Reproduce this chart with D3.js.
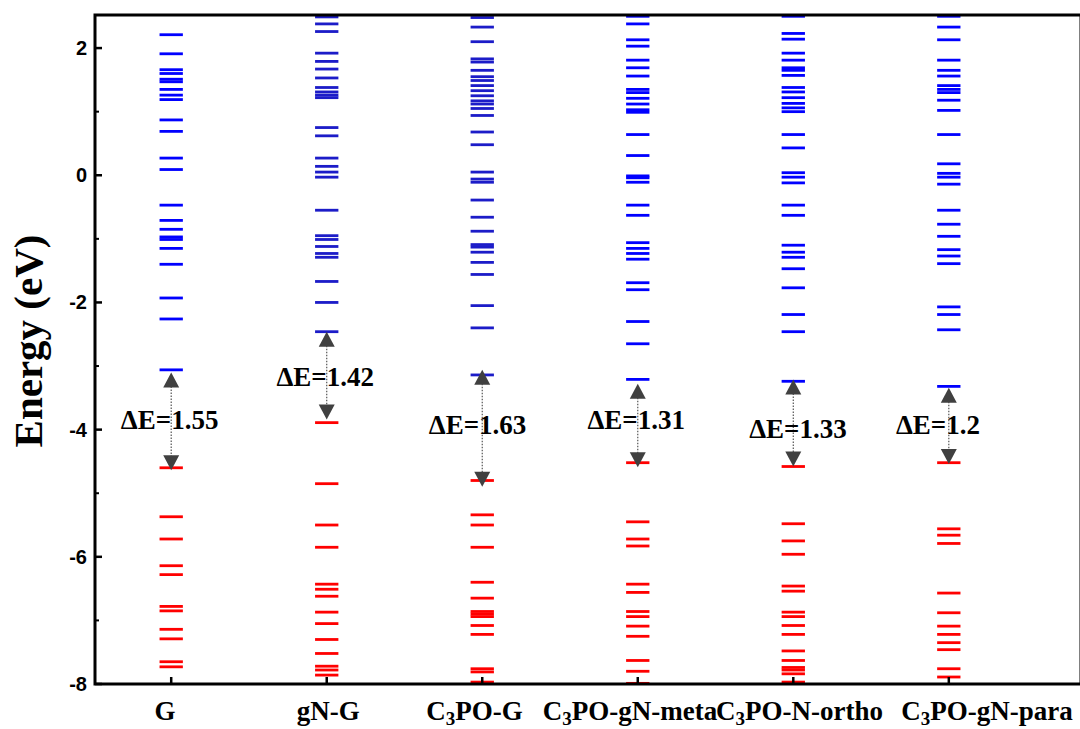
<!DOCTYPE html>
<html>
<head>
<meta charset="utf-8">
<script src="https://cdn.jsdelivr.net/npm/d3@7/dist/d3.min.js"></script>
<style>
  html, body { margin: 0; padding: 0; background: #fff; }
  svg { display: block; }
</style>
</head>
<body>
<svg id="chart" width="1080" height="729"></svg>
<script>
// ---------------- data ----------------
const categories = ["G", "gN-G", "C3PO-G", "C3PO-gN-meta", "C3PO-N-ortho", "C3PO-gN-para"];

// unoccupied (blue) levels, eV
const levelsG_blue = [2.21, 1.91, 1.66, 1.60, 1.51, 1.47, 1.35, 1.26, 1.19, 0.87, 0.69, 0.27, 0.09,
  -0.47, -0.71, -0.85, -0.97, -1.01, -1.15, -1.40, -1.93, -2.26, -3.06];
const levelsgNG_blue = [2.49, 2.38, 2.26, 1.92, 1.79, 1.67, 1.53, 1.38, 1.31, 1.26, 1.22, 0.75, 0.62,
  0.27, 0.14, 0.05, -0.03, -0.55, -0.95, -1.01, -1.12, -1.23, -1.29, -1.67, -2.00, -2.46];
const levelsC3POG_blue = [2.48, 2.33, 2.10, 1.83, 1.78, 1.65, 1.55, 1.49, 1.41, 1.33, 1.25, 1.17, 1.12,
  1.05, 0.94, 0.68, 0.48, 0.05, -0.06, -0.11, -0.39, -0.66, -0.88, -1.09, -1.13, -1.21, -1.37,
  -1.56, -2.05, -2.40, -3.14];
const levelsMeta_blue = [2.50, 2.38, 2.13, 2.03, 1.81, 1.69, 1.56, 1.35, 1.30, 1.21, 1.12, 1.03, 0.99,
  0.64, 0.31, -0.01, -0.04, -0.11, -0.47, -0.63, -1.06, -1.15, -1.23, -1.32, -1.69, -1.80,
  -2.30, -2.65, -3.21];
const levelsOrtho_blue = [2.50, 2.23, 2.14, 1.92, 1.81, 1.69, 1.65, 1.57, 1.38, 1.31, 1.22, 1.13, 1.06,
  1.00, 0.64, 0.43, 0.04, -0.03, -0.12, -0.47, -0.63, -1.10, -1.21, -1.29, -1.47, -1.77,
  -2.19, -2.46, -3.24];
const levelsPara_blue = [2.50, 2.33, 2.13, 1.81, 1.65, 1.56, 1.41, 1.35, 1.30, 1.18, 1.02, 0.64, 0.18,
  0.03, -0.03, -0.14, -0.55, -0.77, -0.96, -1.17, -1.27, -1.39, -2.07, -2.19, -2.43, -3.32];

// occupied (red) levels, eV
const levelsG_red = [-4.60, -5.37, -5.72, -6.14, -6.28, -6.78, -6.85, -7.14, -7.29, -7.65, -7.73];
const levelsgNG_red = [-3.89, -4.85, -5.50, -5.85, -6.43, -6.51, -6.62, -6.87, -7.05, -7.30, -7.52,
  -7.72, -7.78, -7.86];
const levelsC3POG_red = [-4.80, -5.34, -5.50, -5.85, -6.40, -6.65, -6.86, -6.90, -6.94, -7.08, -7.22,
  -7.76, -7.81, -7.97];
const levelsMeta_red = [-4.52, -5.45, -5.72, -5.83, -6.43, -6.56, -6.86, -6.94, -7.09, -7.25, -7.63,
  -7.80, -7.99];
const levelsOrtho_red = [-4.58, -5.48, -5.75, -5.96, -6.46, -6.54, -6.87, -6.94, -7.08, -7.22, -7.48,
  -7.63, -7.74, -7.78, -7.84, -7.97];
const levelsPara_red = [-4.52, -5.56, -5.66, -5.79, -6.57, -6.88, -7.09, -7.22, -7.35, -7.46, -7.76,
  -7.89];

const blueLevels = [levelsG_blue, levelsgNG_blue, levelsC3POG_blue, levelsMeta_blue, levelsOrtho_blue, levelsPara_blue];
const redLevels = [levelsG_red, levelsgNG_red, levelsC3POG_red, levelsMeta_red, levelsOrtho_red, levelsPara_red];

// band gap annotations
const gapValues = ["1.55", "1.42", "1.63", "1.31", "1.33", "1.2"];
const arrowTopE = [-3.10, -2.46, -3.06, -3.28, -3.21, -3.34];
const arrowBottomE = [-4.64, -3.84, -4.90, -4.59, -4.58, -4.54];
const gapLabelE = [-3.85, -3.18, -3.92, -3.85, -3.99, -3.92];
const gapLabelDX = [-0.01, -0.01, -0.03, -0.01, 0.03, -0.07];
const catLabelDX = [-0.04, 0.01, -0.05, -0.05, 0.04, 0.245];

const yTicks = [2, 0, -2, -4, -6, -8];

// ---------------- layout ----------------
const svg = d3.select("#chart");
const mLeft = 95, mRight = 1081, mTop = 15, mBottom = 684;
const x = d3.scaleLinear().domain([0.51, 6.85]).range([mLeft, mRight]);
const y = d3.scaleLinear().domain([-8, 2.52]).range([mBottom, mTop]);

const serif = "'Times New Roman', 'Liberation Serif', serif";
const sans = "Arial, 'Liberation Sans', sans-serif";
const halfW = 0.075; // half line width in category units
const blueColors = ["#0000ff", "#1c1cc8", "#1c1cc8", "#0000ff", "#0000ff", "#0000ff"];

const plot = svg.append("g");

// levels
categories.forEach((c, i) => {
  const cx = i + 1;
  plot.selectAll(null).data(redLevels[i]).enter().append("line")
    .attr("x1", x(cx - halfW)).attr("x2", x(cx + halfW))
    .attr("y1", d => y(d)).attr("y2", d => y(d))
    .attr("stroke", "#ff0000").attr("stroke-width", 2.8);
  plot.selectAll(null).data(blueLevels[i]).enter().append("line")
    .attr("x1", x(cx - halfW)).attr("x2", x(cx + halfW))
    .attr("y1", d => y(d)).attr("y2", d => y(d))
    .attr("stroke", blueColors[i]).attr("stroke-width", 2.8);
});

// arrows
const arrowColor = "#404040";
const headL = 15, headW = 8;
categories.forEach((c, i) => {
  const ax = x(i + 1);
  const yt = y(arrowTopE[i]), yb = y(arrowBottomE[i]);
  plot.append("line")
    .attr("x1", ax).attr("x2", ax)
    .attr("y1", yt + headL - 1).attr("y2", yb - headL + 1)
    .attr("stroke", "#555").attr("stroke-width", 1.2)
    .attr("stroke-dasharray", "1.5,1.5");
  plot.append("path")
    .attr("d", `M${ax},${yt} L${ax - headW},${yt + headL} L${ax + headW},${yt + headL} Z`)
    .attr("fill", arrowColor);
  plot.append("path")
    .attr("d", `M${ax},${yb} L${ax - headW},${yb - headL} L${ax + headW},${yb - headL} Z`)
    .attr("fill", arrowColor);
  plot.append("text")
    .attr("x", x(i + 1 + gapLabelDX[i])).attr("y", y(gapLabelE[i]))
    .attr("text-anchor", "middle").attr("dominant-baseline", "central")
    .attr("font-family", serif).attr("font-weight", "bold").attr("font-size", 27)
    .attr("fill", "#000")
    .text("ΔE=" + gapValues[i]);
});

// y axis ticks (major inside, minor inside)
const minor = d3.range(-7, 3, 2);
svg.selectAll(null).data(yTicks).enter().append("line")
  .attr("x1", mLeft).attr("x2", mLeft + 7)
  .attr("y1", d => y(d)).attr("y2", d => y(d))
  .attr("stroke", "#000").attr("stroke-width", 2.5);
svg.selectAll(null).data(minor).enter().append("line")
  .attr("x1", mLeft).attr("x2", mLeft + 4)
  .attr("y1", d => y(d)).attr("y2", d => y(d))
  .attr("stroke", "#000").attr("stroke-width", 2);
svg.selectAll(null).data(yTicks).enter().append("text")
  .attr("x", mLeft - 8).attr("y", d => y(d))
  .attr("text-anchor", "end").attr("dominant-baseline", "central")
  .attr("font-family", sans).attr("font-weight", "bold").attr("font-size", 20)
  .text(d => d);

// x ticks
svg.selectAll(null).data(categories).enter().append("line")
  .attr("x1", (d, i) => x(i + 1)).attr("x2", (d, i) => x(i + 1))
  .attr("y1", mBottom).attr("y2", mBottom - 7)
  .attr("stroke", "#000").attr("stroke-width", 2.5);

// x labels with subscript 3
const xl = svg.selectAll(null).data(categories).enter().append("text")
  .attr("x", (d, i) => x(i + 1 + catLabelDX[i])).attr("y", 720)
  .attr("text-anchor", "middle")
  .attr("font-family", serif).attr("font-weight", "bold").attr("font-size", 27);
xl.each(function(d) {
  const t = d3.select(this);
  if (d.startsWith("C3")) {
    t.append("tspan").text("C");
    t.append("tspan").attr("font-size", 19).attr("dy", 5).text("3");
    t.append("tspan").attr("dy", -5).text(d.slice(2));
  } else {
    t.text(d);
  }
});

// frame
svg.append("rect")
  .attr("x", mLeft).attr("y", mTop)
  .attr("width", mRight - mLeft).attr("height", mBottom - mTop)
  .attr("fill", "none").attr("stroke", "#000").attr("stroke-width", 3);

// y title
svg.append("text")
  .attr("transform", `translate(42, 341) rotate(-90)`)
  .attr("text-anchor", "middle")
  .attr("font-family", serif).attr("font-weight", "bold").attr("font-size", 41)
  .text("Energy (eV)");
</script>
</body>
</html>
